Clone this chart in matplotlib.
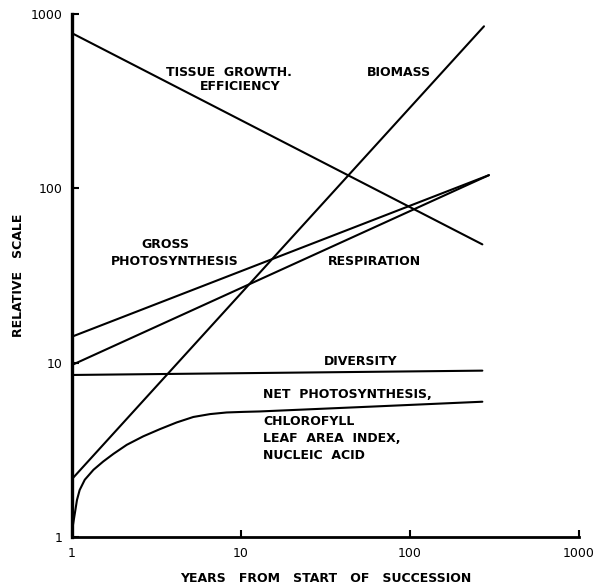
import matplotlib
matplotlib.use('Agg')
import matplotlib.pyplot as plt

# years from start of succession (x) and relative scale (y)
tissue_x = [1, 268]
tissue_y = [776, 47.7]

biomass_x = [1, 274]
biomass_y = [2.15, 850]

gross_x = [1, 293]
gross_y = [14.1, 119]

resp_x = [1, 293]
resp_y = [9.7, 119]

diversity_x = [1, 268]
diversity_y = [8.5, 9.0]

net_x = [1.0, 1.01, 1.04, 1.07, 1.11, 1.19, 1.34, 1.53, 1.76, 2.11, 2.64,
         3.32, 4.16, 5.22, 6.56, 8.22, 10.3, 12.9, 60, 268]
net_y = [1.0, 1.15, 1.37, 1.63, 1.86, 2.13, 2.43, 2.71, 3.00, 3.38, 3.78,
         4.16, 4.54, 4.88, 5.07, 5.18, 5.22, 5.25, 5.6, 5.97]

ticks = [1, 10, 100, 1000]
tick_labels = ['1', '10', '100', '1000']

plt.rcParams['font.family'] = ['DejaVu Sans']

fig = plt.figure(figsize=(6.13, 5.86), dpi=100)
ax = fig.add_axes([72/613, 49/586, 507/613, 523/586])

ax.set_xscale('log')
ax.set_yscale('log')
ax.set_xlim(1, 1000)
ax.set_ylim(1, 1000)

lw = 1.5
for xs, ys in [(tissue_x, tissue_y), (biomass_x, biomass_y), (gross_x, gross_y),
               (resp_x, resp_y), (diversity_x, diversity_y), (net_x, net_y)]:
  ax.plot(xs, ys, color='black', lw=lw, solid_capstyle='round')

for side in ['top', 'right']:
  ax.spines[side].set_visible(False)
ax.spines['left'].set_linewidth(2.4)
ax.spines['bottom'].set_linewidth(2.0)

ax.set_xticks(ticks)
ax.set_xticklabels(tick_labels)
ax.set_yticks(ticks)
ax.set_yticklabels(tick_labels)
ax.minorticks_off()
ax.tick_params(direction='in', length=5, width=1.5, labelsize=9, pad=7)

ax.set_xlabel('YEARS   FROM   START   OF   SUCCESSION', fontsize=9,
              fontweight='bold', labelpad=9)
ax.set_ylabel('RELATIVE   SCALE', fontsize=9, fontweight='bold', labelpad=4)

tk = dict(fontsize=9, fontweight='bold', ha='center', va='center')
ax.text(8.5, 464, 'TISSUE  GROWTH.', **tk)
ax.text(9.9, 386, 'EFFICIENCY', **tk)
ax.text(86, 464, 'BIOMASS', **tk)
ax.text(3.55, 47.7, 'GROSS', **tk)
ax.text(4.07, 38, 'PHOTOSYNTHESIS', **tk)
ax.text(62, 38, 'RESPIRATION', **tk)
ax.text(51.3, 10.1, 'DIVERSITY', **tk)

tl = dict(fontsize=9, fontweight='bold', ha='left', va='center')
ax.text(13.5, 6.55, 'NET  PHOTOSYNTHESIS,', **tl)
ax.text(13.5, 4.58, 'CHLOROFYLL', **tl)
ax.text(13.5, 3.66, 'LEAF  AREA  INDEX,', **tl)
ax.text(13.5, 2.92, 'NUCLEIC  ACID', **tl)

fig.savefig('out.png', dpi=100)
